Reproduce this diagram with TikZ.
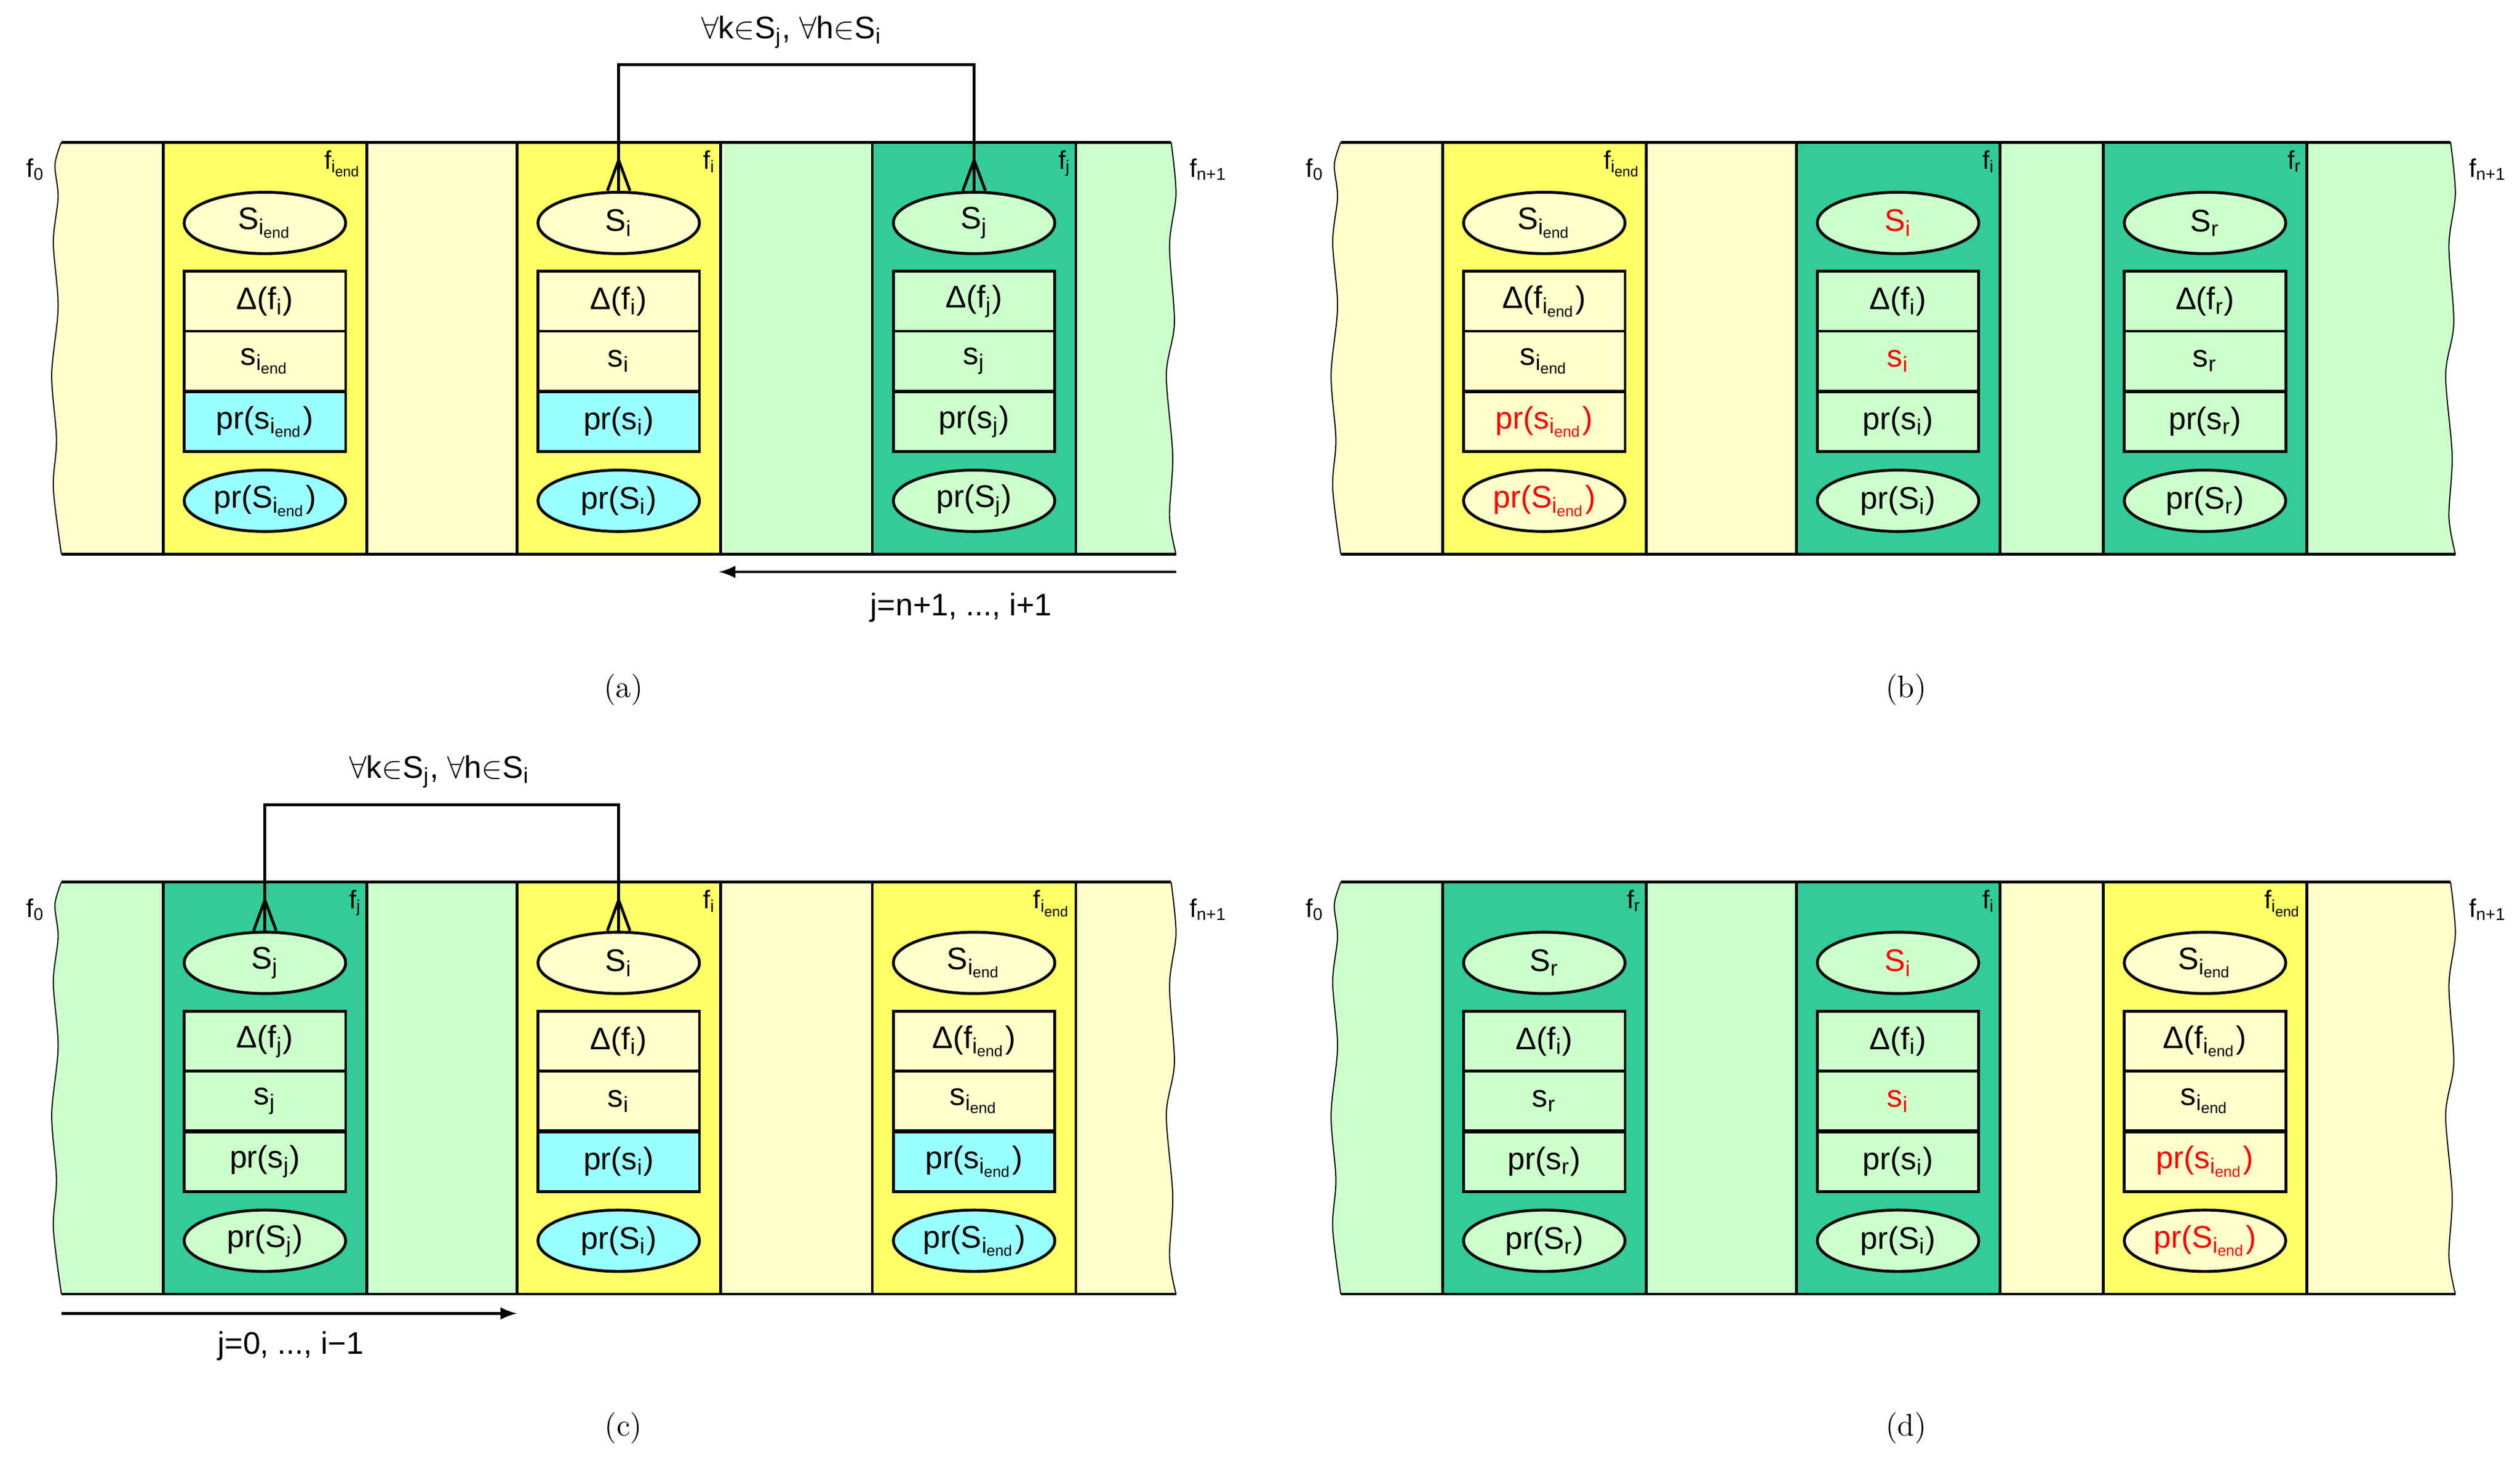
\documentclass[tikz,border=0pt]{standalone}
\usepackage{fontspec}
\setsansfont{Liberation Sans}
\usetikzlibrary{calc,shapes.geometric}
\definecolor{lyellow}{HTML}{FFFFCC}
\definecolor{dyellow}{HTML}{FFFF66}
\definecolor{lgreen}{HTML}{CCFFCC}
\definecolor{dgreen}{HTML}{33CC99}
\definecolor{lcyan}{HTML}{99FFFF}
\definecolor{red}{HTML}{FF0000}
\newcommand{\sub}[1]{\textsubscript{#1}}
\newcommand{\iend}{i\sub{end}}
\def\dsub{i}
% one column f: name, x, column fill, cell fill, pr fill, index, S colour, pr colour
\newcommand{\fcol}[8]{%
 \filldraw[fill=#3,line width=1pt] (#2,88) rectangle ++(126,255);
 \node[flab,anchor=north east] (#1f) at (#2+125,91) {f\sub{#6}};
 \node[sel,fill=#4,text=#7] (#1S) at (#2+63,138) {S\sub{#6}};
 \node[row,fill=#4] (#1D) at (#2+63,186.5) {Δ(f\sub{\dsub})};
 \node[row,fill=#4,text=#7] (#1s) at (#2+63,223.5) {s\sub{#6}};
 \node[row,fill=#5,text=#8] (#1p) at (#2+63,261) {pr(s\sub{#6})};
 \node[sel,fill=#5,text=#8] (#1P) at (#2+63,310) {pr(S\sub{#6})};
}
\newcommand{\band}{plot[smooth] coordinates {(38,88) (34,102) (36,122) (33,150) (36,190) (32,232) (35,272) (33,302) (38,343)}
 -- plot[smooth] coordinates {(728,343) (724,320) (726,282) (722,232) (727,200) (724,152) (728,120) (725,88)} -- cycle}
\newcommand{\edges}{%
 \draw[line width=0.4pt] plot[smooth] coordinates {(38,88) (34,102) (36,122) (33,150) (36,190) (32,232) (35,272) (33,302) (38,343)};
 \draw[line width=0.4pt] plot[smooth] coordinates {(728,343) (724,320) (726,282) (722,232) (727,200) (724,152) (728,120) (725,88)};
 \draw[line width=1pt] (38,88) -- (725,88) (38,343) -- (728,343);
 \node[flab] (f0) at (22,105) {f\sub{0}};
 \node[flab] (fn) at (748,105) {f\sub{n+1}};
}
\newcommand{\crow}[1]{%
 \draw[line width=1pt] (#1.north) -- ++(0,-19);
 \draw[line width=1pt] ($(#1.north)+(-7,0)$) -- ++(7,-19) -- ++(7,19);
}

\begin{document}
\begin{tikzpicture}[x=0.02cm,y=-0.02cm,font=\sffamily\fontsize{11}{13}\selectfont]
\tikzset{
 sel/.style={draw,ellipse,line width=1pt,minimum width=2cm,minimum height=0.76cm,inner sep=0pt},
 row/.style={draw,rectangle,line width=1pt,minimum width=2cm,minimum height=0.74cm,inner sep=0pt},
 flab/.style={font=\sffamily\fontsize{9}{10}\selectfont,inner sep=1pt},
 capt/.style={font=\rmfamily\fontsize{11}{13}\selectfont}
}
\useasboundingbox (0,0) rectangle (1560,906);

% (a)
\begin{scope}
 \begin{scope}
  \clip \band;
  \fill[lyellow] (0,80) rectangle (448,350);
  \fill[lgreen] (448,80) rectangle (740,350);
 \end{scope}
 \edges
 \fcol{a1}{101}{dyellow}{lyellow}{lcyan}{\iend}{black}{black}
 \def\dsub{i}
 \fcol{a2}{320}{dyellow}{lyellow}{lcyan}{i}{black}{black}
 \def\dsub{j}
 \fcol{a3}{540}{dgreen}{lgreen}{lgreen}{j}{black}{black}
 \crow{a2S} \crow{a3S}
 \draw[line width=1pt] (a2S.north) ++(0,-19) |- (490,40) node[above=2pt] (aq) {$\forall$k$\in$S\sub{j}, $\forall$h$\in$S\sub{i}} -| ($(a3S.north)+(0,-19)$);
 \coordinate (ar) at (728,354);
 \draw[line width=1pt,-latex] (ar) -- (445,354);
 \node (aj) at (595,376) {j=n+1, ..., i+1};
 \node[capt] (ca) at (386,427) {(a)};
\end{scope}

% (b)
\begin{scope}[shift={(792,0)}]
 \begin{scope}
  \clip \band;
  \fill[lyellow] (0,80) rectangle (320,350);
  \fill[lgreen] (320,80) rectangle (740,350);
 \end{scope}
 \edges
 \def\dsub{\iend}
 \fcol{b1}{101}{dyellow}{lyellow}{lyellow}{\iend}{black}{red}
 \def\dsub{i}
 \fcol{b2}{320}{dgreen}{lgreen}{lgreen}{i}{red}{black}
 \def\dsub{r}
 \fcol{b3}{510}{dgreen}{lgreen}{lgreen}{r}{black}{black}
 \node[capt] (cb) at (388,427) {(b)};
\end{scope}

% (c)
\begin{scope}[shift={(0,458)}]
 \begin{scope}
  \clip \band;
  \fill[lgreen] (0,80) rectangle (446,350);
  \fill[lyellow] (446,80) rectangle (740,350);
 \end{scope}
 \edges
 \def\dsub{j}
 \fcol{c1}{101}{dgreen}{lgreen}{lgreen}{j}{black}{black}
 \def\dsub{i}
 \fcol{c2}{320}{dyellow}{lyellow}{lcyan}{i}{black}{black}
 \def\dsub{\iend}
 \fcol{c3}{540}{dyellow}{lyellow}{lcyan}{\iend}{black}{black}
 \crow{c1S} \crow{c2S}
 \draw[line width=1pt] (c1S.north) ++(0,-19) |- (272,40) node[above=2pt] (cq) {$\forall$k$\in$S\sub{j}, $\forall$h$\in$S\sub{i}} -| ($(c2S.north)+(0,-19)$);
 \coordinate (cl) at (38,355);
 \draw[line width=1pt,-latex] (cl) -- (320,355);
 \node (cj) at (180,375) {j=0, ..., i−1};
 \node[capt] (cc) at (386,426) {(c)};
\end{scope}

% (d)
\begin{scope}[shift={(792,458)}]
 \begin{scope}
  \clip \band;
  \fill[lgreen] (0,80) rectangle (446,350);
  \fill[lyellow] (446,80) rectangle (740,350);
 \end{scope}
 \edges
 \def\dsub{i}
 \fcol{d1}{101}{dgreen}{lgreen}{lgreen}{r}{black}{black}
 \fcol{d2}{320}{dgreen}{lgreen}{lgreen}{i}{red}{black}
 \def\dsub{\iend}
 \fcol{d3}{510}{dyellow}{lyellow}{lyellow}{\iend}{black}{red}
 \node[capt] (cd) at (388,426) {(d)};
\end{scope}
\end{tikzpicture}
\end{document}
